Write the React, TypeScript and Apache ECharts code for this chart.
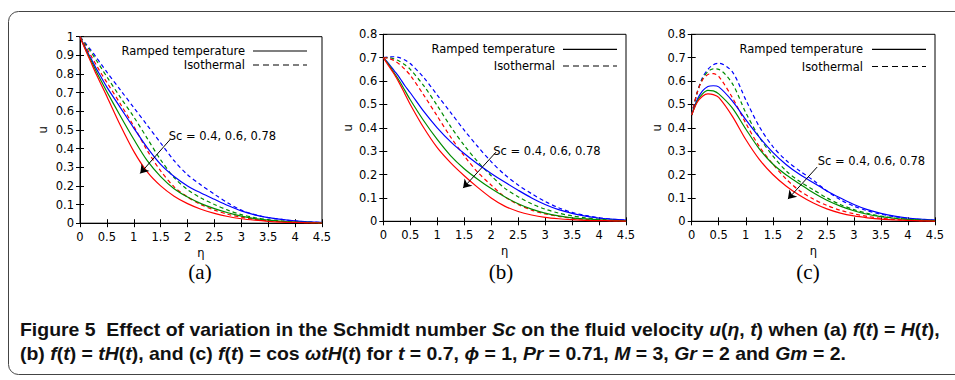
import React, { useEffect, useRef } from "react";
import * as echarts from "echarts";

// η sample points shared by all curves
const ETA = [0, 0.1, 0.2, 0.3, 0.4, 0.5, 0.75, 1, 1.25, 1.5, 1.75, 2, 2.25, 2.5, 2.75, 3, 3.25, 3.5, 3.75, 4, 4.25, 4.5];

// Panel (a): f(t) = H(t)
const A_BLUE_RAMP = [1, 0.94, 0.885, 0.83, 0.78, 0.73, 0.62, 0.51, 0.405, 0.315, 0.25, 0.2, 0.162, 0.128, 0.095, 0.066, 0.045, 0.03, 0.02, 0.012, 0.007, 0.004];
const A_GREEN_RAMP = [1, 0.935, 0.875, 0.815, 0.76, 0.705, 0.575, 0.45, 0.335, 0.25, 0.185, 0.14, 0.105, 0.078, 0.056, 0.038, 0.025, 0.016, 0.01, 0.006, 0.004, 0.002];
const A_RED_RAMP = [1, 0.93, 0.865, 0.8, 0.74, 0.68, 0.525, 0.385, 0.275, 0.2, 0.145, 0.105, 0.075, 0.053, 0.036, 0.024, 0.016, 0.01, 0.006, 0.004, 0.002, 0.001];
const A_BLUE_ISO = [1, 0.965, 0.93, 0.89, 0.85, 0.81, 0.715, 0.62, 0.525, 0.43, 0.335, 0.26, 0.205, 0.155, 0.108, 0.07, 0.046, 0.03, 0.02, 0.012, 0.007, 0.004];
const A_GREEN_ISO = [1, 0.96, 0.92, 0.875, 0.83, 0.785, 0.675, 0.57, 0.455, 0.34, 0.245, 0.18, 0.135, 0.1, 0.07, 0.046, 0.03, 0.019, 0.012, 0.007, 0.004, 0.002];
const A_RED_ISO = [1, 0.95, 0.9, 0.85, 0.8, 0.755, 0.64, 0.52, 0.39, 0.28, 0.195, 0.14, 0.1, 0.07, 0.048, 0.032, 0.021, 0.013, 0.008, 0.005, 0.003, 0.002];

// Panel (b): f(t) = tH(t)
const B_BLUE_RAMP = [0.7, 0.675, 0.645, 0.615, 0.58, 0.55, 0.47, 0.4, 0.34, 0.29, 0.245, 0.205, 0.168, 0.133, 0.1, 0.072, 0.05, 0.034, 0.022, 0.014, 0.009, 0.005];
const B_GREEN_RAMP = [0.7, 0.67, 0.635, 0.6, 0.56, 0.52, 0.43, 0.35, 0.28, 0.225, 0.18, 0.14, 0.105, 0.075, 0.052, 0.035, 0.023, 0.015, 0.01, 0.006, 0.004, 0.002];
const B_RED_RAMP = [0.7, 0.665, 0.63, 0.59, 0.545, 0.5, 0.4, 0.315, 0.25, 0.195, 0.145, 0.1, 0.065, 0.042, 0.027, 0.017, 0.011, 0.007, 0.004, 0.003, 0.002, 0.001];
const B_BLUE_ISO = [0.7, 0.703, 0.704, 0.7, 0.69, 0.675, 0.615, 0.54, 0.465, 0.39, 0.32, 0.255, 0.2, 0.155, 0.118, 0.085, 0.058, 0.038, 0.025, 0.015, 0.009, 0.005];
const B_GREEN_ISO = [0.7, 0.7, 0.695, 0.685, 0.67, 0.65, 0.58, 0.495, 0.405, 0.325, 0.255, 0.195, 0.142, 0.105, 0.075, 0.052, 0.035, 0.023, 0.015, 0.009, 0.005, 0.003];
const B_RED_ISO = [0.7, 0.697, 0.688, 0.672, 0.65, 0.625, 0.54, 0.45, 0.36, 0.28, 0.21, 0.155, 0.105, 0.072, 0.048, 0.032, 0.021, 0.013, 0.008, 0.005, 0.003, 0.002];

// Panel (c): f(t) = cos(ωt)H(t)
const C_BLUE_RAMP = [0.455, 0.52, 0.558, 0.577, 0.58, 0.575, 0.515, 0.435, 0.36, 0.295, 0.242, 0.2, 0.165, 0.13, 0.1, 0.072, 0.05, 0.034, 0.022, 0.014, 0.009, 0.005];
const C_GREEN_RAMP = [0.455, 0.513, 0.545, 0.56, 0.558, 0.545, 0.485, 0.395, 0.31, 0.245, 0.198, 0.16, 0.122, 0.09, 0.065, 0.045, 0.03, 0.02, 0.013, 0.008, 0.005, 0.003];
const C_RED_RAMP = [0.455, 0.508, 0.535, 0.545, 0.542, 0.53, 0.45, 0.35, 0.265, 0.2, 0.15, 0.11, 0.078, 0.053, 0.035, 0.023, 0.015, 0.009, 0.006, 0.004, 0.002, 0.001];
const C_BLUE_ISO = [0.455, 0.55, 0.615, 0.65, 0.67, 0.676, 0.64, 0.52, 0.405, 0.32, 0.26, 0.215, 0.175, 0.13, 0.092, 0.065, 0.045, 0.03, 0.02, 0.012, 0.007, 0.004];
const C_GREEN_ISO = [0.455, 0.55, 0.61, 0.64, 0.652, 0.65, 0.59, 0.465, 0.36, 0.28, 0.215, 0.17, 0.135, 0.1, 0.072, 0.05, 0.034, 0.022, 0.014, 0.009, 0.005, 0.003];
const C_RED_ISO = [0.455, 0.55, 0.605, 0.628, 0.632, 0.62, 0.53, 0.42, 0.32, 0.245, 0.18, 0.13, 0.095, 0.068, 0.047, 0.032, 0.021, 0.013, 0.008, 0.005, 0.003, 0.002];

// Axes
const X_MIN = 0;
const X_MAX = 4.5;
const X_STEP = 0.5;
const Y_MAX = [1, 0.8, 0.8];
const Y_STEP = 0.1;
const PANEL_LABELS = ["(a)", "(b)", "(c)"];
const X_NAME = "η";
const Y_NAME = "u";
const LEGEND_LABELS = ["Ramped temperature", "Isothermal"];

// Annotation "Sc = ..." anchors and arrows in data coordinates per panel
const ANNOT_TEXT = "Sc = 0.4, 0.6, 0.78";
const ANNOT_TEXT_AT = [[1.64, 0.466], [2.03, 0.3], [2.32, 0.258]];
const ARROW_FROM = [[1.68, 0.45], [2.09, 0.296], [2.32, 0.232]];
const ARROW_TO = [[1.12, 0.267], [1.48, 0.142], [1.78, 0.095]];

// Caption segments: [style, text]  (b = bold, i = bold italic)
const CAPTION_LINE1: [string, string][] = [
  ["b", "Figure 5  Effect of variation in the Schmidt number "], ["i", "Sc"], ["b", " on the fluid velocity "],
  ["i", "u"], ["b", "("], ["i", "η"], ["b", ", "], ["i", "t"], ["b", ") when (a) "], ["i", "f"], ["b", "("], ["i", "t"],
  ["b", ") = "], ["i", "H"], ["b", "("], ["i", "t"], ["b", "),"],
];
const CAPTION_LINE2: [string, string][] = [
  ["b", "(b) "], ["i", "f"], ["b", "("], ["i", "t"], ["b", ") = "], ["i", "tH"], ["b", "("], ["i", "t"], ["b", "), and (c) "],
  ["i", "f"], ["b", "("], ["i", "t"], ["b", ") = cos "], ["i", "ωtH"], ["b", "("], ["i", "t"], ["b", ") for "], ["i", "t"],
  ["b", " = 0.7, "], ["i", "ϕ"], ["b", " = 1, "], ["i", "Pr"], ["b", " = 0.71, "], ["i", "M"], ["b", " = 3, "], ["i", "Gr"],
  ["b", " = 2 and "], ["i", "Gm"], ["b", " = 2."],
];

const PANELS = [
  { ramp: [A_BLUE_RAMP, A_GREEN_RAMP, A_RED_RAMP], iso: [A_BLUE_ISO, A_GREEN_ISO, A_RED_ISO] },
  { ramp: [B_BLUE_RAMP, B_GREEN_RAMP, B_RED_RAMP], iso: [B_BLUE_ISO, B_GREEN_ISO, B_RED_ISO] },
  { ramp: [C_BLUE_RAMP, C_GREEN_RAMP, C_RED_RAMP], iso: [C_BLUE_ISO, C_GREEN_ISO, C_RED_ISO] },
];

const COLORS = ["#0000ff", "#008c00", "#ff0000"];

// layout (pixels)
const GRIDS = [
  { left: 80, top: 36.7, width: 242, height: 186.5 },
  { left: 383.3, top: 34.3, width: 242.7, height: 187 },
  { left: 691.7, top: 34.3, width: 243.3, height: 187 },
];
const LEGEND_POS = [
  { textRight: 245, y1: 51, y2: 65, lx1: 253, lx2: 307 },
  { textRight: 555, y1: 49.3, y2: 66, lx1: 563, lx2: 617 },
  { textRight: 863, y1: 49.3, y2: 66.5, lx1: 872, lx2: 926 },
];
const YNAME_X = [42.7, 348.3, 656.7];
const PANEL_LABEL_X = [200, 501, 808];

const FONT = "'DejaVu Sans', sans-serif";
const FS = 11.5;
const CAP_FAMILY = "'Liberation Sans', Arial, sans-serif";
const CAP_SIZE = 18;
const CAP_LEFT = 20;
const CAP_LINE1_WIDTH = 920;

function measureLine(segs: [string, string][]): number {
  const c = document.createElement("canvas");
  const ctx = c.getContext("2d");
  if (!ctx) return CAP_LINE1_WIDTH;
  let w = 0;
  segs.forEach(([s, t]) => {
    ctx.font = `${s === "i" ? "italic " : ""}bold ${CAP_SIZE}px ${CAP_FAMILY}`;
    w += ctx.measureText(t).width;
  });
  return w;
}

export default function App() {
  const ref = useRef<HTMLDivElement>(null);
  useEffect(() => {
    if (!ref.current) return;
    const chart = echarts.init(ref.current, null, { renderer: "svg" });

    const xAxes: any[] = [];
    const yAxes: any[] = [];
    const series: any[] = [];
    const graphics: any[] = [];

    PANELS.forEach((p, gi) => {
      const common = {
        gridIndex: gi,
        type: "value",
        axisLine: { show: true, lineStyle: { color: "#000", width: 1 } },
        axisTick: { show: true, inside: true, length: 4, lineStyle: { color: "#000" } },
        splitLine: { show: false },
      };
      xAxes.push({
        ...common,
        position: "bottom",
        min: X_MIN,
        max: X_MAX,
        interval: X_STEP,
        name: X_NAME,
        nameLocation: "middle",
        nameGap: 24,
        nameTextStyle: { fontFamily: FONT, fontSize: FS, color: "#000" },
        axisLabel: { show: true, margin: 8, fontFamily: FONT, fontSize: FS, color: "#000" },
      });
      xAxes.push({ ...common, position: "top", min: X_MIN, max: X_MAX, interval: X_STEP, axisLabel: { show: false } });
      yAxes.push({
        ...common,
        position: "left",
        min: 0,
        max: Y_MAX[gi],
        interval: Y_STEP,
        axisLabel: { show: true, margin: 6, fontFamily: FONT, fontSize: FS, color: "#000" },
      });
      yAxes.push({ ...common, position: "right", min: 0, max: Y_MAX[gi], interval: Y_STEP, axisLabel: { show: false } });

      const addLine = (vals: number[], color: string, dashed: boolean, extra: any = {}) => {
        series.push({
          type: "line",
          xAxisIndex: gi * 2,
          yAxisIndex: gi * 2,
          data: ETA.map((x, i) => [x, vals[i]]),
          smooth: 0.3,
          showSymbol: false,
          symbol: "none",
          lineStyle: { color, width: 1.2, type: dashed ? [4, 3] : "solid" },
          z: 3,
          silent: true,
          ...extra,
        });
      };
      p.iso.forEach((v, k) => addLine(v, COLORS[k], true));
      p.ramp.forEach((v, k) =>
        addLine(
          v,
          COLORS[k],
          false,
          k === 0
            ? {
                markLine: {
                  silent: true,
                  symbol: ["none", "arrow"],
                  symbolSize: 8,
                  label: { show: false },
                  lineStyle: { color: "#000", width: 1, type: "solid" },
                  data: [[{ coord: ARROW_FROM[gi] }, { coord: ARROW_TO[gi] }]],
                },
                markPoint: {
                  silent: true,
                  symbol: "circle",
                  symbolSize: 1,
                  itemStyle: { color: "rgba(0,0,0,0)" },
                  label: {
                    show: true,
                    position: "right",
                    distance: 0,
                    formatter: ANNOT_TEXT,
                    color: "#000",
                    fontFamily: FONT,
                    fontSize: FS,
                  },
                  data: [{ coord: ANNOT_TEXT_AT[gi] }],
                },
              }
            : {}
        )
      );

      const g = GRIDS[gi];
      const lp = LEGEND_POS[gi];
      graphics.push(
        {
          type: "text",
          x: YNAME_X[gi],
          y: g.top + g.height / 2,
          rotation: Math.PI / 2,
          style: { text: Y_NAME, align: "center", verticalAlign: "middle", fontFamily: FONT, fontSize: FS, fill: "#000" },
        },
        {
          type: "text",
          x: lp.textRight,
          y: lp.y1,
          style: { text: LEGEND_LABELS[0], align: "right", verticalAlign: "middle", fontFamily: FONT, fontSize: FS, fill: "#000" },
        },
        {
          type: "text",
          x: lp.textRight,
          y: lp.y2,
          style: { text: LEGEND_LABELS[1], align: "right", verticalAlign: "middle", fontFamily: FONT, fontSize: FS, fill: "#000" },
        },
        { type: "line", shape: { x1: lp.lx1, y1: lp.y1, x2: lp.lx2, y2: lp.y1 }, style: { stroke: "#000", lineWidth: 1.2 } },
        {
          type: "line",
          shape: { x1: lp.lx1, y1: lp.y2, x2: lp.lx2, y2: lp.y2 },
          style: { stroke: "#000", lineWidth: 1.2, lineDash: [6, 4] },
        },
        {
          type: "text",
          x: PANEL_LABEL_X[gi],
          y: 272,
          style: {
            text: PANEL_LABELS[gi],
            align: "center",
            verticalAlign: "middle",
            fontFamily: "'Liberation Serif', serif",
            fontSize: 21,
            fill: "#000",
          },
        }
      );
    });

    // border box
    graphics.push({
      type: "rect",
      shape: { x: 8.5, y: 11.5, width: 980, height: 363, r: 10 },
      style: { fill: "none", stroke: "#444", lineWidth: 1 },
      z: -1,
    });

    // caption
    const rich = {
      b: { fontFamily: CAP_FAMILY, fontWeight: "bold", fontSize: CAP_SIZE, fill: "#111" },
      i: { fontFamily: CAP_FAMILY, fontWeight: "bold", fontStyle: "italic", fontSize: CAP_SIZE, fill: "#111" },
    };
    const toRich = (segs: [string, string][]) => segs.map(([s, t]) => `{${s}|${t}}`).join("");
    const w1 = measureLine(CAPTION_LINE1);
    const sx = w1 > 0 ? CAP_LINE1_WIDTH / w1 : 1;
    graphics.push(
      {
        type: "text",
        x: CAP_LEFT,
        y: 330,
        scaleX: sx,
        style: { text: toRich(CAPTION_LINE1), rich, verticalAlign: "middle", align: "left" },
      },
      {
        type: "text",
        x: CAP_LEFT,
        y: 354,
        scaleX: sx,
        style: { text: toRich(CAPTION_LINE2), rich, verticalAlign: "middle", align: "left" },
      }
    );

    chart.setOption({
      animation: false,
      backgroundColor: "#fff",
      grid: GRIDS.map((g) => ({ ...g, show: true, borderColor: "#000", borderWidth: 1, containLabel: false })),
      xAxis: xAxes,
      yAxis: yAxes,
      series,
      graphic: graphics,
    });
    return () => chart.dispose();
  }, []);
  return <div ref={ref} style={{ position: "fixed", left: 0, top: 0, width: 955, height: 380 }} />;
}
